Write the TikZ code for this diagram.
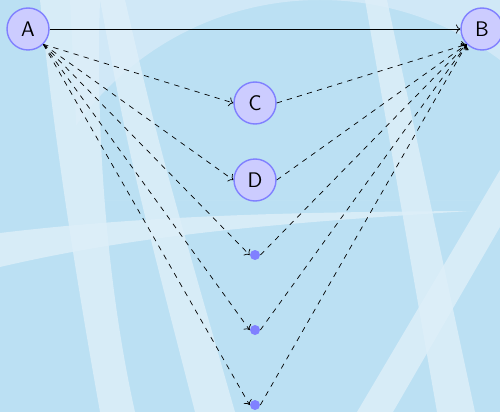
\documentclass[tikz,border=0pt]{standalone}
\usepackage{tikz}
\usetikzlibrary{arrows.meta, positioning, calc}
\definecolor{bgblue}{RGB}{187,224,243}
\definecolor{bglight}{RGB}{208,232,247}
\definecolor{streak}{RGB}{222,239,249}
\definecolor{nodefill}{RGB}{204,204,255}
\definecolor{nodedraw}{RGB}{128,128,255}

\begin{document}
\begin{tikzpicture}[
    x=0.02cm, y=-0.02cm,
    state/.style={circle, draw=nodedraw, fill=nodefill, thick, minimum size=0.84cm, inner sep=0pt, font=\sffamily\large},
    spot/.style={circle, fill=nodedraw, minimum size=0.2cm, inner sep=0pt},
    route/.style={->, dashed},
    direct/.style={->}
]
    % background
    \useasboundingbox (0,0) rectangle (500,412);
    \fill[bgblue] (0,0) rectangle (500,412);
    \begin{scope}
        \clip (70,0) -- (500,0) -- (500,200) -- (80,200) -- cycle;
        \fill[bglight, even odd rule] (0,0) rectangle (500,200) (320,300) circle[radius=300];
    \end{scope}
    \fill[streak, opacity=0.8] (40,0) .. controls (55,150) and (80,300) .. (100,412)
        -- (135,412) .. controls (110,300) and (95,150) .. (100,0) -- cycle;
    \fill[streak, opacity=0.8] (100,0) -- (125,0) .. controls (160,150) .. (235,412) -- (195,412) .. controls (130,160) .. cycle;
    \fill[streak, opacity=0.8] (0,233) .. controls (150,215) and (300,212) .. (470,211)
        .. controls (300,222) and (150,232) .. (0,267) -- cycle;
    \fill[streak, opacity=0.8] (365,0) -- (387,0) -- (475,412) -- (437,412) -- cycle;
    \fill[streak, opacity=0.8] (357,412) -- (393,412) -- (500,227) -- (500,170) -- cycle;

    % nodes
    \node[state] (A) at (28,29) {A};
    \node[state] (B) at (482,29) {B};
    \node[state] (C) at (255,103) {C};
    \node[state] (D) at (255,180) {D};
    \node[spot] (p1) at (255,255) {};
    \node[spot] (p2) at (255,330) {};
    \node[spot] (p3) at (255,405) {};

    % edges
    \draw[direct] (A) -- (B);
    \draw[route] (A.south east) -- (C.west);
    \draw[route] (C.east) -- (B.south west);
    \draw[route] (A.south east) -- (D.west);
    \draw[route] (D.east) -- (B.south west);
    \foreach \p in {p1,p2,p3} {
        \draw[route] (A.south east) -- (\p.west);
        \draw[route] (\p.east) -- (B.south west);
    }
\end{tikzpicture}
\end{document}
